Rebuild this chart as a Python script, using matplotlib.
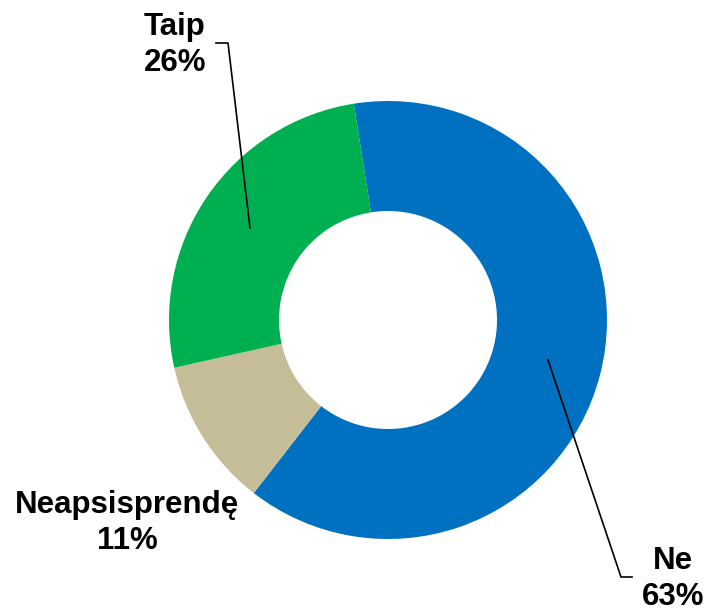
import matplotlib
matplotlib.use("Agg")
import matplotlib.pyplot as plt

labels = ["Ne", "Neapsisprendę", "Taip"]
values = [63, 11, 26]
colors = ["#0070C0", "#C4BD97", "#00B050"]

W, H = 709, 611
fig = plt.figure(figsize=(W / 100, H / 100), dpi=100)
ax = fig.add_axes([0, 0, 1, 1])
ax.set_xlim(0, W)
ax.set_ylim(0, H)
ax.set_aspect("equal")
ax.axis("off")

def P(x, y):
    return x, H - y

cx, cy = P(388, 320)
ax.pie(values, colors=colors, startangle=99, counterclock=False,
       radius=219, center=(cx, cy),
       wedgeprops=dict(width=110, edgecolor="none"))
ax.set_xlim(0, W)
ax.set_ylim(0, H)

font = dict(family=["Liberation Sans", "DejaVu Sans"], fontweight="bold", fontsize=22.5,
            ha="center", va="center", linespacing=1.28)

# Taip label + leader
ax.text(*P(175, 45), f"{labels[2]}\n{values[2]}%", **font)
xs, ys = zip(P(216, 43), P(228, 43), P(250, 228))
ax.plot(xs, ys, color="black", lw=1.2)

# Ne label + leader
ax.text(*P(673, 579), f"{labels[0]}\n{values[0]}%", **font)
xs, ys = zip(P(548, 360), P(621, 577), P(632, 577))
ax.plot(xs, ys, color="black", lw=1.2)

# Neapsisprendę label
ax.text(*P(127, 523), f"{labels[1]}\n{values[1]}%", **font)

fig.savefig("out.png", dpi=100)
